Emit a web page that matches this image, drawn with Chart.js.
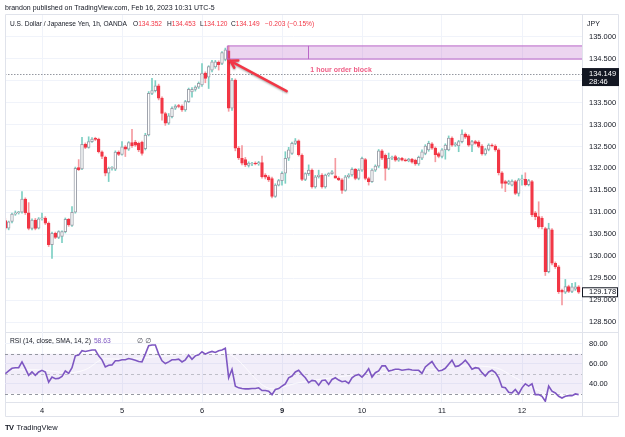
<!DOCTYPE html>
<html>
<head>
<meta charset="utf-8">
<script src="https://cdn.jsdelivr.net/npm/chart.js@4.4.0/dist/chart.umd.min.js"></script>
<style>
html, body { margin: 0; padding: 0; background: #fff; }
#wrap { position: relative; width: 625px; height: 437px; overflow: hidden; font-family: "Liberation Sans", Arial, sans-serif; color: #131722; }
#main { position: absolute; left: 0; top: 0; }
#rsi { position: absolute; left: 0; top: 320px; }
.txt { position: absolute; white-space: nowrap; line-height: 1; }
.red { color: #f23645; }
</style>
</head>
<body>
<div id="wrap">
  <canvas id="main" width="625" height="437"></canvas>
  <canvas id="rsi" width="625" height="98"></canvas>
  <div class="txt" style="left:5px;top:4px;font-size:7px;">brandon published on TradingView.com, Feb 16, 2023 10:31 UTC-5</div>
  <div class="txt" style="left:10px;top:20.5px;font-size:6.6px;">U.S. Dollar / Japanese Yen, 1h, OANDA</div>
  <div class="txt" style="left:133px;top:20.5px;font-size:6.6px;">O<span class="red">134.352</span></div>
  <div class="txt" style="left:167px;top:20.5px;font-size:6.6px;">H<span class="red">134.453</span></div>
  <div class="txt" style="left:200px;top:20.5px;font-size:6.6px;">L<span class="red">134.120</span></div>
  <div class="txt" style="left:231px;top:20.5px;font-size:6.6px;">C<span class="red">134.149</span></div>
  <div class="txt red" style="left:265px;top:20.5px;font-size:6.6px;">−0.203 (−0.15%)</div>
  <div class="txt" style="left:587px;top:19.5px;font-size:7px;">JPY</div>
  <div class="txt" style="left:10px;top:338px;font-size:6.7px;">RSI (14, close, SMA, 14, 2) <span style="color:#7e57c2;margin-left:1px;">58.63</span></div>
  <div class="txt" style="left:137px;top:337.5px;font-size:7px;font-family:'DejaVu Sans';color:#50535e;">∅ ∅</div>
  <div class="txt" style="left:5px;top:424px;font-size:7.5px;"><b style="letter-spacing:-0.6px;margin-right:3px;">TV</b>TradingView</div>
</div>
<script>
// hourly candles, index 0 = Jan 3 13:00 (UTC-5)
var opens = [
130.81,130.64,130.79,130.96,130.99,131.00,131.30,130.99,130.63,130.82,
130.64,130.85,130.87,130.75,130.26,130.52,130.43,130.45,130.56,130.84,
130.70,131.00,132.02,131.99,132.55,132.48,132.61,132.68,132.67,132.38,
132.25,131.89,132.00,131.98,132.37,132.32,132.49,132.44,132.59,132.60,
132.57,132.60,132.45,132.76,133.71,133.77,133.88,133.60,133.25,133.03,
133.18,133.37,133.43,133.42,133.33,133.52,133.74,133.80,133.85,133.90,
134.17,134.08,134.24,134.31,134.42,134.39,134.48,134.68,133.37,134.01,
132.46,132.23,132.20,132.07,132.10,132.12,132.10,132.13,131.85,131.81,
131.77,131.36,131.62,131.72,131.89,132.23,132.34,132.57,132.63,132.30,
131.75,131.88,131.96,131.58,131.81,131.85,131.58,131.85,131.88,131.83,
131.78,131.74,131.50,131.81,131.85,131.98,131.77,131.96,132.20,131.77,
131.70,131.96,132.05,132.40,132.30,132.00,132.23,132.27,132.19,132.23,
132.19,132.17,132.21,132.19,132.10,132.23,132.34,132.42,132.56,132.46,
132.34,132.27,132.42,132.42,132.69,132.53,132.51,132.61,132.78,132.74,
132.53,132.61,132.60,132.51,132.33,132.43,132.53,132.51,132.42,131.90,
131.70,131.66,131.62,131.70,131.43,131.74,131.75,131.63,131.70,130.99,
130.90,130.86,130.63,129.65,130.60,129.84,129.76,129.22,129.18,129.31,
129.20,129.25,129.30
];
var highs = [
130.86,130.80,130.98,131.03,131.02,131.47,131.33,131.22,130.85,130.86,
130.88,130.98,130.90,130.78,130.55,130.55,130.58,130.58,130.87,130.86,
131.13,132.03,132.20,132.71,132.58,132.72,132.70,132.71,132.69,132.40,
132.28,132.03,132.04,132.40,132.40,132.61,132.52,132.61,132.89,132.64,
132.60,132.62,132.80,133.75,134.05,134.00,133.92,133.63,133.28,133.25,
133.40,133.45,133.46,133.45,133.55,133.83,133.84,133.88,133.97,134.39,
134.20,134.34,134.46,134.46,134.45,134.66,134.74,134.79,134.05,134.04,
132.50,132.52,132.25,132.15,132.14,132.15,132.16,132.28,131.88,131.84,
131.80,131.65,131.75,131.92,132.38,132.48,132.60,132.68,132.65,132.33,
131.90,132.08,131.99,131.84,131.96,131.88,131.87,131.90,131.95,132.23,
131.81,131.77,131.84,131.88,132.01,132.00,131.99,132.26,132.23,131.80,
131.99,132.08,132.43,132.43,132.33,132.35,132.28,132.30,132.25,132.25,
132.22,132.23,132.23,132.21,132.28,132.42,132.54,132.62,132.59,132.49,
132.37,132.45,132.56,132.74,132.72,132.59,132.64,132.88,132.81,132.77,
132.64,132.64,132.63,132.54,132.46,132.56,132.56,132.54,132.45,131.93,
131.73,131.73,131.74,131.73,131.77,131.85,131.90,131.75,131.73,131.02,
131.24,130.90,130.66,130.75,130.63,129.87,129.79,129.25,129.47,129.34,
129.38,129.40,129.33
];
var lows = [
130.60,130.60,130.76,130.93,130.96,130.98,130.95,130.60,130.60,130.60,
130.62,130.82,130.72,130.22,129.95,130.40,130.40,130.31,130.53,130.68,
130.68,130.98,131.95,131.97,132.45,132.46,132.59,132.63,132.35,132.22,
131.83,131.70,131.96,131.95,132.29,132.30,132.27,132.41,132.48,132.50,
132.38,132.30,132.42,132.74,133.68,133.74,133.56,133.10,132.98,133.00,
133.15,133.34,133.38,133.30,133.30,133.50,133.62,133.76,133.82,133.87,
133.95,133.82,134.20,134.28,134.24,134.36,134.45,133.30,133.32,132.40,
132.20,132.08,132.04,132.03,132.06,132.08,132.07,131.78,131.76,131.70,
131.33,131.34,131.60,131.62,131.66,132.18,132.32,132.54,132.28,131.72,
131.72,131.84,131.55,131.55,131.78,131.55,131.55,131.82,131.86,131.78,
131.72,131.43,131.48,131.78,131.82,131.74,131.74,131.93,131.74,131.62,
131.68,131.93,132.02,132.20,131.73,131.97,132.20,132.16,132.16,132.17,
132.16,132.15,132.12,132.07,132.07,132.20,132.31,132.39,132.43,132.15,
132.24,132.24,132.21,132.40,132.50,132.50,132.38,132.58,132.68,132.50,
132.38,132.55,132.47,132.30,132.30,132.40,132.49,132.39,131.85,131.55,
131.47,131.63,131.60,131.40,131.37,131.62,131.60,131.60,130.90,130.83,
130.64,130.62,129.56,129.62,129.80,129.72,129.15,128.89,129.15,129.17,
129.17,129.22,129.15
];
var closes = [
130.64,130.78,130.96,130.99,131.00,131.30,130.99,130.63,130.82,130.63,
130.85,130.87,130.75,130.26,130.52,130.43,130.56,130.56,130.84,130.71,
131.00,132.00,131.97,132.55,132.48,132.61,132.67,132.66,132.38,132.27,
131.89,132.00,132.01,132.37,132.32,132.49,132.44,132.59,132.52,132.53,
132.42,132.34,132.76,133.71,133.77,133.88,133.60,133.25,133.03,133.20,
133.37,133.42,133.41,133.33,133.52,133.80,133.80,133.85,133.94,134.17,
134.05,134.32,134.43,134.43,134.36,134.64,134.70,133.37,134.01,132.46,
132.24,132.12,132.08,132.12,132.12,132.10,132.13,131.81,131.80,131.74,
131.36,131.62,131.72,131.89,132.23,132.42,132.57,132.63,132.31,131.75,
131.88,131.96,131.58,131.81,131.85,131.58,131.85,131.88,131.92,131.78,
131.74,131.50,131.81,131.85,131.98,131.77,131.96,132.23,131.77,131.70,
131.96,132.05,132.40,132.23,132.00,132.23,132.25,132.19,132.23,132.19,
132.17,132.21,132.14,132.10,132.25,132.38,132.51,132.57,132.46,132.31,
132.27,132.42,132.53,132.69,132.53,132.56,132.61,132.78,132.71,132.53,
132.61,132.57,132.50,132.33,132.43,132.53,132.51,132.42,131.90,131.66,
131.66,131.70,131.71,131.43,131.74,131.75,131.63,131.72,130.94,130.90,
130.67,130.67,129.65,130.63,129.84,129.76,129.19,129.18,129.31,129.20,
129.30,129.30,129.18
];
var rsiValues = [
50,52.7,55.4,56,56,61.8,55.4,48.3,51.7,48.3,
51.7,53.4,51.7,41.5,46.6,44.9,45.3,47.3,52.7,50.3,
56,67.9,68.6,73,72.3,73,73.7,73.7,67.9,63.9,
56.8,58.5,58.8,62.9,62.9,63.9,63.9,65.2,64.5,63.5,
62.2,61.8,69.6,78.1,78.8,78.8,69.6,62.9,60.2,61.8,
63.9,63.9,64.5,61.8,63.9,68.6,64.5,67.9,69,72,
69.6,71.3,72.3,71.3,73,73.7,75.4,45.9,54.4,37.5,
35.8,35.1,34.8,34.8,35.1,35.1,35.8,33.1,33.1,32.4,
29,34.1,35.1,37.5,39.8,45.9,47.6,51.7,53.4,49.3,
45.9,40.9,43.2,42.6,38.5,43.2,43.6,39.2,44.2,45.9,
43.6,41.9,42.6,40.2,45.9,48.3,49.3,46.6,50.3,55.1,
46.6,51,52.7,57.8,57.8,52.7,53.4,54.4,54.4,53.4,
54,54.4,53.7,53.4,53.4,50.3,56.8,59.5,62.2,56.8,
52.7,53.4,55.4,59.5,63.5,57.1,57.8,60.2,63.5,59.5,
54.4,56,55.4,51,47.6,51.7,53.4,51,45.9,36.5,
35.8,31.4,30.7,34.1,29.7,35.8,39.8,37.5,39.8,29,
29,27.3,22.3,37.5,32.4,30.7,27.3,25.6,27.3,28,
28,29.7,29
];
// RSI smoothing line (SMA 14), read at the visible points
var smaIdx  = [2, 9, 19, 24, 30, 35, 45, 56, 66, 80, 88, 98, 108, 118, 128, 138, 147, 153, 162, 172];
var smaVals = [54, 54, 51, 54, 65, 64.5, 67, 69.5, 70, 34.8, 40.9, 45.9, 50, 53.4, 54, 57.8, 56, 46, 31, 29];

var dayTicks  = [11, 35, 59, 83, 107, 131, 155];
var dayLabels = ['4', '5', '6', '9', '10', '11', '12'];
var priceTicks = [128.5, 129, 129.5, 130, 130.5, 131, 131.5, 132, 132.5, 133, 133.5, 134, 134.5, 135];
var rsiTicks = [40, 60, 80];
var markedPrice = 134.149;
var lastPrice = 129.178;

Chart.defaults.font.family = "'Liberation Sans', Arial, sans-serif";
Chart.defaults.color = '#131722';

var bodyData = [], wickData = [], bodyFill = [], bodyLine = [], wickColor = [];
for (var i = 0; i < closes.length; i++) {
  var up = closes[i] >= opens[i];
  bodyData.push({x: i, y: [opens[i], closes[i]]});
  wickData.push({x: i, y: [lows[i], highs[i]]});
  bodyFill.push(up ? '#ffffff' : '#f23645');
  bodyLine.push(up ? '#9a9ea8' : '#f23645');
  wickColor.push(up ? '#7ccfc3' : '#f59aa0');
}
var rsiPoints = rsiValues.map(function(v, i) { return {x: i, y: v}; });
var smaPoints = smaIdx.map(function(v, i) { return {x: v, y: smaVals[i]}; });

function setTicks(list) {
  return function(s) { s.ticks = list.map(function(v) { return {value: v}; }); };
}

var mainDecor = {
  id: 'mainDecor',
  beforeDatasetsDraw: function(chart) {
    var ctx = chart.ctx, a = chart.chartArea, y = chart.scales.y;
    var py = Math.round(y.getPixelForValue(markedPrice)) + 0.5;
    ctx.save();
    ctx.strokeStyle = '#9598a1';
    ctx.lineWidth = 1;
    ctx.setLineDash([1.5, 1.5]);
    ctx.beginPath(); ctx.moveTo(a.left, py); ctx.lineTo(a.right, py); ctx.stroke();
    ctx.restore();
  },
  afterDatasetsDraw: function(chart) {
    var ctx = chart.ctx, a = chart.chartArea, x = chart.scales.x, y = chart.scales.y;
    ctx.save();
    // order block box
    var bx = x.getPixelForValue(66.6), by1 = y.getPixelForValue(134.79), by2 = y.getPixelForValue(134.49);
    ctx.fillStyle = 'rgba(186,104,200,0.28)';
    ctx.fillRect(bx, by1, a.right - bx, by2 - by1);
    ctx.strokeStyle = '#ba68c8';
    ctx.lineWidth = 1;
    ctx.beginPath();
    ctx.moveTo(a.right, by1); ctx.lineTo(bx, by1); ctx.lineTo(bx, by2); ctx.lineTo(a.right, by2);
    var mx = Math.round(x.getPixelForValue(90.8)) + 0.5;
    ctx.moveTo(mx, by1); ctx.lineTo(mx, by2);
    ctx.stroke();
    ctx.fillStyle = '#ef5f87';
    ctx.font = 'bold 7px "Liberation Sans", Arial, sans-serif';
    ctx.textBaseline = 'middle';
    ctx.fillText('1 hour order block', x.getPixelForValue(91.5), y.getPixelForValue(134.23));
    // arrow
    var tx = x.getPixelForValue(67.5), ty = y.getPixelForValue(134.45);
    var sx = x.getPixelForValue(84.4), sy = y.getPixelForValue(133.76);
    var ang = Math.atan2(ty - sy, tx - sx);
    ctx.shadowColor = 'rgba(0,0,0,0.35)';
    ctx.shadowBlur = 2;
    ctx.shadowOffsetY = 1;
    ctx.strokeStyle = '#f23645';
    ctx.lineWidth = 2.5;
    ctx.lineCap = 'round';
    ctx.lineJoin = 'round';
    ctx.beginPath();
    ctx.moveTo(sx, sy); ctx.lineTo(tx, ty);
    ctx.moveTo(tx - 8 * Math.cos(ang - 0.55), ty - 8 * Math.sin(ang - 0.55));
    ctx.lineTo(tx, ty);
    ctx.lineTo(tx - 8 * Math.cos(ang + 0.55), ty - 8 * Math.sin(ang + 0.55));
    ctx.stroke();
    ctx.restore();
  },
  afterDraw: function(chart) {
    var ctx = chart.ctx, a = chart.chartArea, y = chart.scales.y;
    ctx.save();
    // frame
    ctx.strokeStyle = '#e0e3eb';
    ctx.lineWidth = 1;
    ctx.beginPath();
    ctx.rect(5.5, 14.5, 613, 402);
    ctx.moveTo(5, 332.5); ctx.lineTo(619, 332.5);
    ctx.moveTo(5, 402.5); ctx.lineTo(619, 402.5);
    ctx.moveTo(582.5, 14); ctx.lineTo(582.5, 417);
    ctx.stroke();
    ctx.font = '7.5px "Liberation Sans", Arial, sans-serif';
    ctx.textBaseline = 'middle';
    // marked price tag
    var ly = y.getPixelForValue(markedPrice);
    ctx.fillStyle = '#131722';
    ctx.fillRect(a.right, ly - 6, 37, 18);
    ctx.fillStyle = '#ffffff';
    ctx.fillText('134.149', a.right + 7, ly - 0.5);
    ctx.fillText('28:46', a.right + 7, ly + 8);
    // last price tag
    var lp = y.getPixelForValue(lastPrice);
    ctx.fillStyle = '#ffffff';
    ctx.fillRect(a.right + 0.5, lp - 4.5, 35, 9);
    ctx.strokeStyle = '#131722';
    ctx.strokeRect(a.right + 0.5, lp - 4.5, 35, 9);
    ctx.fillStyle = '#131722';
    ctx.fillText('129.178', a.right + 7, lp);
    ctx.restore();
  }
};

new Chart(document.getElementById('main'), {
  type: 'bar',
  data: {
    datasets: [
      { data: bodyData, backgroundColor: bodyFill, borderColor: bodyLine, borderWidth: 1, borderSkipped: false, barThickness: 2.8, minBarLength: 1, grouped: false },
      { data: wickData, backgroundColor: wickColor, borderWidth: 0, barThickness: 1, grouped: false }
    ]
  },
  options: {
    responsive: false,
    animation: false,
    layout: { padding: { left: 5, top: 14, right: 6, bottom: 105 } },
    plugins: { legend: { display: false }, tooltip: { enabled: false } },
    scales: {
      x: {
        type: 'linear', min: -0.1, max: 173, offset: false,
        ticks: { display: false },
        grid: { color: '#f0f3fa', drawTicks: false, offset: false },
        border: { display: false },
        afterBuildTicks: setTicks(dayTicks),
        afterFit: function(s) { s.height = 0; }
      },
      y: {
        position: 'right', min: 128.273, max: 135.517,
        ticks: { padding: 7, font: { size: 7.5 }, color: '#131722', callback: function(v) { return v.toFixed(3); } },
        grid: { color: '#f0f3fa', drawTicks: false },
        border: { display: false },
        afterBuildTicks: setTicks(priceTicks),
        afterFit: function(s) { s.width = 37; }
      }
    }
  },
  plugins: [mainDecor]
});

var rsiBand = {
  id: 'rsiBand',
  beforeDatasetsDraw: function(chart) {
    var ctx = chart.ctx, a = chart.chartArea, y = chart.scales.y;
    var y70 = y.getPixelForValue(70), y30 = y.getPixelForValue(30), y50 = y.getPixelForValue(50);
    ctx.save();
    ctx.fillStyle = 'rgba(126,87,194,0.1)';
    ctx.fillRect(a.left, y70, a.right - a.left, y30 - y70);
    ctx.strokeStyle = '#9598a1';
    ctx.lineWidth = 1;
    ctx.setLineDash([3, 3]);
    ctx.beginPath();
    [y70, y30].forEach(function(v) { v = Math.round(v) + 0.5; ctx.moveTo(a.left, v); ctx.lineTo(a.right, v); });
    ctx.stroke();
    ctx.strokeStyle = 'rgba(149,152,161,0.55)';
    ctx.beginPath();
    var m = Math.round(y50) + 0.5;
    ctx.moveTo(a.left, m); ctx.lineTo(a.right, m);
    ctx.stroke();
    ctx.restore();
  }
};

// canvas starts 12px above the pane; Chart.js keeps ~11.5px of top padding here
new Chart(document.getElementById('rsi'), {
  type: 'line',
  data: {
    datasets: [
      { data: rsiPoints, borderColor: '#7e57c2', borderWidth: 1.6, pointRadius: 0, tension: 0 },
      { data: smaPoints, borderColor: 'rgba(255,255,255,0.95)', borderWidth: 0.8, pointRadius: 0, cubicInterpolationMode: 'monotone' }
    ]
  },
  options: {
    responsive: false,
    animation: false,
    layout: { padding: { left: 5, top: 0, right: 6, bottom: 0 } },
    plugins: { legend: { display: false }, tooltip: { enabled: false } },
    scales: {
      x: {
        type: 'linear', min: -0.1, max: 173,
        ticks: {
          padding: 4, autoSkip: false, maxRotation: 0, color: '#131722',
          font: function(c) { return { size: 7.5, weight: (c.tick && c.tick.value === 83) ? 'bold' : 'normal' }; },
          callback: function(v) { return dayLabels[dayTicks.indexOf(v)]; }
        },
        grid: { color: '#f0f3fa', drawTicks: false },
        border: { display: false },
        afterBuildTicks: setTicks(dayTicks),
        afterFit: function(s) { s.height = 16; }
      },
      y: {
        position: 'right', min: 21.6, max: 92.3,
        ticks: { padding: 7, font: { size: 7.5 }, color: '#131722', callback: function(v) { return v.toFixed(2); } },
        grid: { color: '#f0f3fa', drawTicks: false },
        border: { display: false },
        afterBuildTicks: setTicks(rsiTicks),
        afterFit: function(s) { s.width = 37; }
      }
    }
  },
  plugins: [rsiBand]
});
</script>
</body>
</html>
